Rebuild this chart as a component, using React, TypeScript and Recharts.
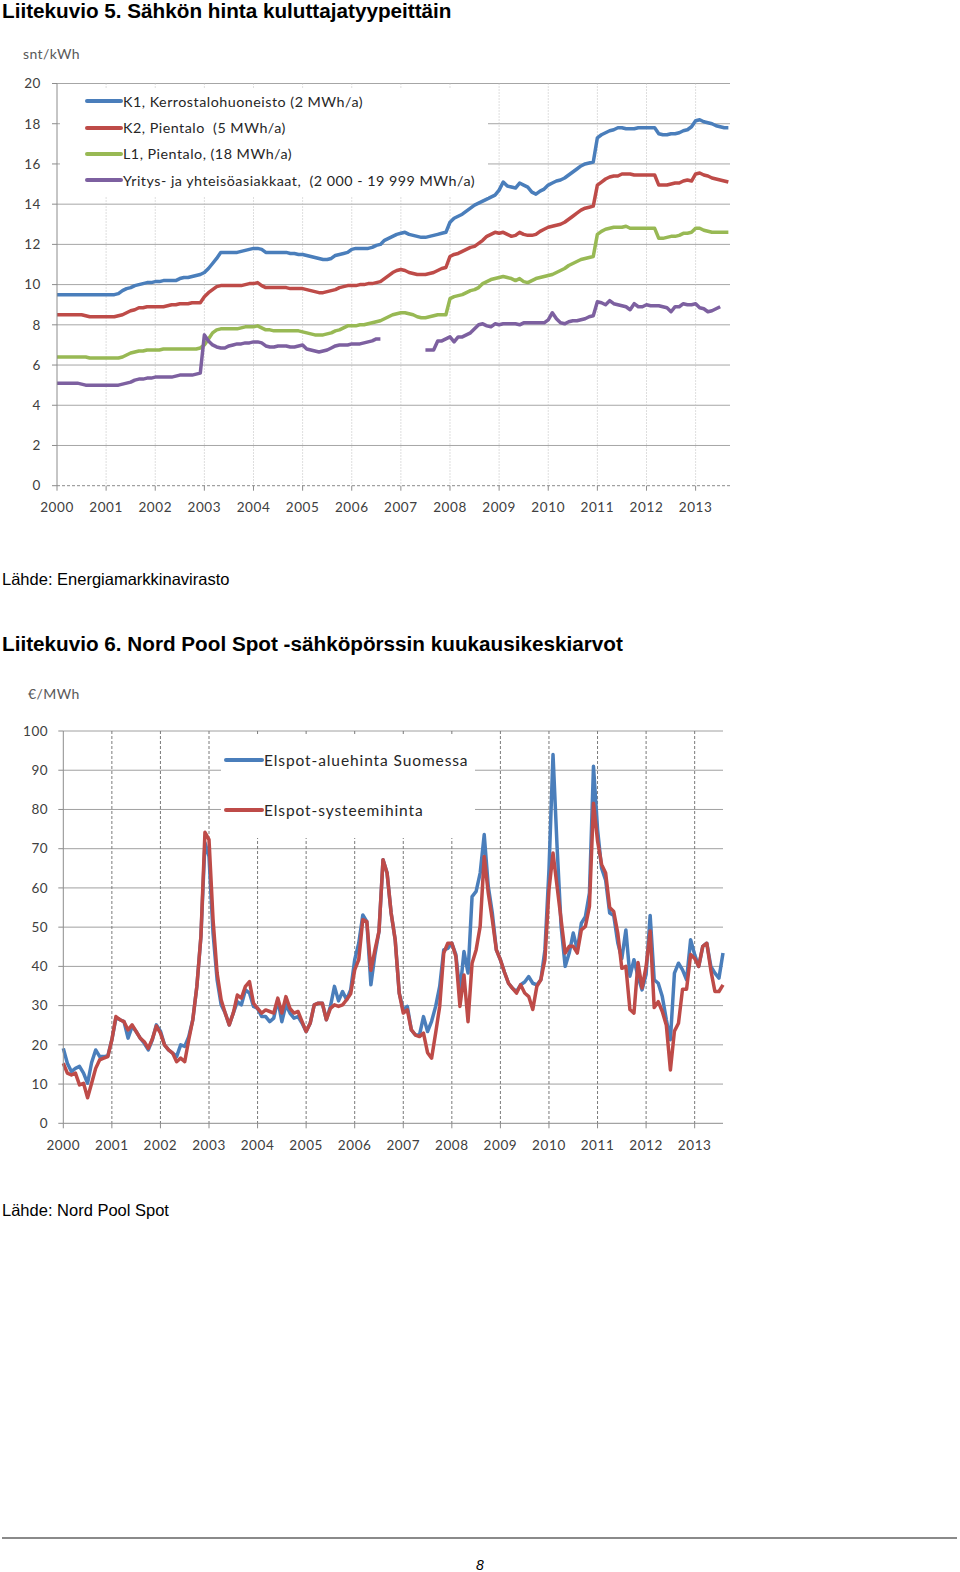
import * as React from 'react';
import { LineChart, Line, CartesianGrid, XAxis, YAxis, Legend } from 'recharts';

// Liitekuvio 5: sähkön hinta kuluttajatyypeittäin, snt/kWh, kuukausittain 1/2000 - 9/2013
const K1 = [
  9.5, 9.5, 9.5, 9.5, 9.5, 9.5, 9.5, 9.5, 9.5, 9.5, 9.5, 9.5,
  9.5, 9.5, 9.5, 9.55, 9.7, 9.8, 9.85, 9.95, 10.0, 10.05, 10.1, 10.1,
  10.15, 10.15, 10.2, 10.2, 10.2, 10.2, 10.3, 10.35, 10.35, 10.4, 10.45, 10.5,
  10.6, 10.8, 11.05, 11.3, 11.6, 11.6, 11.6, 11.6, 11.6, 11.65, 11.7, 11.75,
  11.8, 11.8, 11.75, 11.6, 11.6, 11.6, 11.6, 11.6, 11.6, 11.55, 11.55, 11.5,
  11.5, 11.45, 11.4, 11.35, 11.3, 11.25, 11.25, 11.3, 11.45, 11.5, 11.55, 11.6,
  11.75, 11.8, 11.8, 11.8, 11.8, 11.85, 11.95, 12.0, 12.2, 12.3, 12.4, 12.5,
  12.55, 12.6, 12.5, 12.45, 12.4, 12.35, 12.35, 12.4, 12.45, 12.5, 12.55, 12.6,
  13.1, 13.3, 13.4, 13.5, 13.65, 13.8, 13.95, 14.05, 14.15, 14.25, 14.35, 14.45,
  14.7, 15.1, 14.9, 14.85, 14.8, 15.05, 14.95, 14.85, 14.6, 14.5, 14.65, 14.75,
  14.95, 15.05, 15.15, 15.2, 15.3, 15.45, 15.6, 15.75, 15.9, 16.0, 16.05, 16.1,
  17.3, 17.45, 17.55, 17.65, 17.7, 17.8, 17.8, 17.75, 17.75, 17.75, 17.8, 17.8,
  17.8, 17.8, 17.8, 17.5, 17.45, 17.45, 17.5, 17.5, 17.55, 17.65, 17.7, 17.85,
  18.15, 18.2, 18.1, 18.05, 18.0, 17.9, 17.85, 17.8, 17.8,
];

const K2 = [
  8.5, 8.5, 8.5, 8.5, 8.5, 8.5, 8.5, 8.45, 8.4, 8.4, 8.4, 8.4,
  8.4, 8.4, 8.4, 8.45, 8.5, 8.6, 8.7, 8.75, 8.85, 8.85, 8.9, 8.9,
  8.9, 8.9, 8.9, 8.95, 9.0, 9.0, 9.05, 9.05, 9.05, 9.1, 9.1, 9.1,
  9.4, 9.6, 9.75, 9.9, 9.95, 9.95, 9.95, 9.95, 9.95, 9.95, 10.0, 10.05,
  10.05, 10.1, 9.95, 9.85, 9.85, 9.85, 9.85, 9.85, 9.85, 9.8, 9.8, 9.8,
  9.8, 9.75, 9.7, 9.65, 9.6, 9.6, 9.65, 9.7, 9.75, 9.85, 9.9, 9.95,
  9.95, 9.95, 10.0, 10.0, 10.05, 10.05, 10.1, 10.15, 10.3, 10.45, 10.6, 10.7,
  10.75, 10.7, 10.6, 10.55, 10.5, 10.5, 10.5, 10.55, 10.6, 10.7, 10.8, 10.85,
  11.4, 11.5, 11.55, 11.65, 11.75, 11.85, 11.9, 12.05, 12.2, 12.4, 12.5, 12.6,
  12.55, 12.6, 12.5, 12.4, 12.45, 12.6, 12.5, 12.45, 12.45, 12.5, 12.65, 12.75,
  12.85, 12.9, 12.95, 13.0, 13.1, 13.25, 13.4, 13.55, 13.7, 13.8, 13.85, 13.9,
  14.95, 15.1, 15.25, 15.35, 15.4, 15.4, 15.5, 15.5, 15.5, 15.45, 15.45, 15.45,
  15.45, 15.45, 15.45, 14.95, 14.95, 14.95, 15.0, 15.05, 15.05, 15.15, 15.2, 15.15,
  15.5, 15.55, 15.45, 15.4, 15.3, 15.25, 15.2, 15.15, 15.1,
];

const L1 = [
  6.4, 6.4, 6.4, 6.4, 6.4, 6.4, 6.4, 6.4, 6.35, 6.35, 6.35, 6.35,
  6.35, 6.35, 6.35, 6.35, 6.4, 6.5, 6.6, 6.65, 6.7, 6.7, 6.75, 6.75,
  6.75, 6.75, 6.8, 6.8, 6.8, 6.8, 6.8, 6.8, 6.8, 6.8, 6.8, 6.85,
  7.0, 7.3, 7.6, 7.75, 7.8, 7.8, 7.8, 7.8, 7.8, 7.85, 7.9, 7.9,
  7.9, 7.95, 7.85, 7.75, 7.75, 7.7, 7.7, 7.7, 7.7, 7.7, 7.7, 7.7,
  7.65, 7.6, 7.55, 7.5, 7.5, 7.5, 7.55, 7.6, 7.7, 7.75, 7.85, 7.95,
  7.95, 7.95, 8.0, 8.0, 8.05, 8.1, 8.15, 8.2, 8.3, 8.4, 8.5, 8.55,
  8.6, 8.6, 8.55, 8.5, 8.4, 8.35, 8.35, 8.4, 8.45, 8.5, 8.5, 8.5,
  9.3, 9.4, 9.45, 9.5, 9.6, 9.7, 9.75, 9.85, 10.05, 10.15, 10.25, 10.3,
  10.35, 10.4, 10.35, 10.3, 10.2, 10.3, 10.15, 10.1, 10.2, 10.3, 10.35, 10.4,
  10.45, 10.5, 10.6, 10.7, 10.8, 10.95, 11.05, 11.15, 11.25, 11.3, 11.35, 11.4,
  12.5, 12.65, 12.75, 12.8, 12.85, 12.85, 12.85, 12.9, 12.8, 12.8, 12.8, 12.8,
  12.8, 12.8, 12.8, 12.3, 12.3, 12.35, 12.4, 12.4, 12.45, 12.55, 12.55, 12.6,
  12.8, 12.8, 12.7, 12.65, 12.6, 12.6, 12.6, 12.6, 12.6,
];

const YRITYS = [
  5.1, 5.1, 5.1, 5.1, 5.1, 5.1, 5.05, 5.0, 5.0, 5.0, 5.0, 5.0,
  5.0, 5.0, 5.0, 5.0, 5.05, 5.1, 5.15, 5.25, 5.3, 5.3, 5.35, 5.35,
  5.4, 5.4, 5.4, 5.4, 5.4, 5.45, 5.5, 5.5, 5.5, 5.5, 5.55, 5.6,
  7.5, 7.2, 7.0, 6.9, 6.85, 6.85, 6.95, 7.0, 7.05, 7.05, 7.1, 7.1,
  7.15, 7.15, 7.1, 6.95, 6.9, 6.9, 6.95, 6.95, 6.95, 6.9, 6.9, 6.95,
  7.0, 6.8, 6.75, 6.7, 6.65, 6.7, 6.75, 6.85, 6.95, 7.0, 7.0, 7.0,
  7.05, 7.05, 7.05, 7.1, 7.15, 7.2, 7.3, 7.3, null, null, null, null,
  null, null, null, null, null, null, 6.75, 6.75, 6.75, 7.2, 7.2, 7.3,
  7.4, 7.15, 7.4, 7.4, 7.5, 7.6, 7.8, 8.0, 8.05, 7.95, 7.9, 8.05,
  8.0, 8.05, 8.05, 8.05, 8.05, 8.0, 8.1, 8.1, 8.1, 8.1, 8.1, 8.1,
  8.25, 8.6, 8.3, 8.1, 8.05, 8.15, 8.2, 8.2, 8.25, 8.3, 8.4, 8.45,
  9.15, 9.1, 9.0, 9.2, 9.05, 9.0, 8.95, 8.9, 8.75, 9.05, 8.9, 8.9,
  9.0, 8.95, 8.95, 8.95, 8.9, 8.85, 8.65, 8.9, 8.9, 9.05, 9.0, 9.0,
  9.05, 8.85, 8.8, 8.65, 8.7, 8.8, 8.9, null, null,
];

// Liitekuvio 6: Nord Pool Spot, €/MWh, kuukausittain 1/2000 - 8/2013
const ALUEHINTA_FI = [
  19.1, 15.3, 13.2, 14.0, 14.5, 12.8, 10.2, 15.5, 18.7, 17.0, 17.0, 17.2,
  21.3, 26.8, 26.4, 25.9, 21.7, 24.7, 23.4, 21.7, 20.4, 18.7, 21.3, 25.1,
  23.5, 20.0, 18.7, 17.9, 17.0, 20.0, 19.6, 22.1, 26.4, 34.9, 47.6, 71.5,
  68.0, 48.5, 36.6, 30.2, 28.1, 25.1, 28.1, 31.0, 30.2, 34.0, 33.2, 29.8,
  29.3, 27.2, 27.2, 25.9, 26.8, 31.5, 25.9, 30.2, 28.1, 26.8, 27.2, 25.5,
  23.4, 25.5, 30.2, 30.6, 30.6, 26.4, 29.8, 34.9, 31.2, 33.6, 31.5, 34.0,
  41.7, 45.9, 53.1, 51.4, 35.3, 43.0, 48.9, 67.2, 63.8, 53.6, 46.8, 33.2,
  28.9, 29.8, 23.8, 22.5, 22.5, 27.2, 23.4, 26.0, 29.8, 34.9, 44.2, 44.6,
  45.9, 43.0, 33.5, 43.8, 38.3, 57.8, 59.1, 63.8, 73.6, 60.4, 53.6, 44.2,
  41.7, 38.5, 35.7, 34.4, 33.6, 35.3, 36.0, 37.4, 35.7, 35.3, 36.6, 44.2,
  64.6, 94.0, 70.6, 50.2, 40.0, 43.4, 48.5, 44.2, 51.0, 52.7, 58.7, 91.0,
  75.0, 65.0, 62.0, 53.6, 53.0, 46.0, 42.0, 49.3, 37.5, 41.7, 37.4, 34.0,
  38.0, 53.0, 36.6, 35.7, 32.3, 26.4, 21.3, 38.3, 40.8, 39.1, 36.6, 46.8,
  43.0, 40.0, 45.1, 45.9, 40.0, 38.3, 37.0, 43.4,
];

const SYSTEEMIHINTA = [
  15.3, 12.8, 12.3, 12.8, 9.8, 10.2, 6.5, 10.2, 14.0, 16.2, 16.6, 17.0,
  21.3, 27.2, 26.4, 25.9, 23.8, 25.1, 23.4, 21.7, 20.8, 19.1, 21.5, 24.8,
  23.0, 20.0, 18.7, 17.9, 15.7, 16.6, 15.7, 21.3, 26.4, 34.9, 47.6, 74.2,
  72.3, 51.9, 38.3, 31.5, 28.1, 25.1, 28.1, 32.7, 31.9, 34.9, 36.1, 30.6,
  29.3, 28.1, 28.9, 28.5, 28.1, 31.9, 28.1, 32.3, 29.3, 28.1, 28.5, 25.9,
  23.4, 25.5, 30.2, 30.6, 30.6, 26.4, 29.3, 30.2, 29.8, 30.2, 31.5, 33.0,
  39.1, 41.7, 51.9, 51.4, 39.0, 44.2, 48.9, 67.2, 63.8, 53.6, 46.8, 33.2,
  28.1, 28.9, 23.8, 22.5, 22.1, 23.0, 18.0, 16.6, 23.0, 29.8, 43.4, 45.9,
  45.9, 42.5, 29.8, 37.8, 25.9, 40.8, 44.2, 50.2, 68.0, 58.7, 51.9, 44.2,
  41.7, 38.5, 35.7, 34.4, 33.2, 35.3, 33.2, 32.3, 29.0, 34.9, 36.6, 41.7,
  59.5, 68.9, 60.4, 51.9, 43.4, 45.1, 45.1, 43.4, 49.3, 50.2, 55.3, 81.6,
  72.0, 66.0, 63.8, 55.0, 54.0, 48.5, 39.5, 40.0, 29.0, 28.1, 41.0, 34.5,
  40.0, 49.0, 29.5, 31.0, 28.5, 25.0, 13.6, 23.5, 25.5, 34.2, 34.2, 43.0,
  42.0, 40.0, 45.1, 45.9, 39.0, 33.6, 33.6, 35.3,
];

const YEAR_TICKS = [0, 1, 2, 3, 4, 5, 6, 7, 8, 9, 10, 11, 12, 13];
const Y_TICKS_1 = [0, 2, 4, 6, 8, 10, 12, 14, 16, 18, 20];
const Y_TICKS_2 = [0, 10, 20, 30, 40, 50, 60, 70, 80, 90, 100];

const SERIES_1 = [
  { key: 'k1', name: 'K1, Kerrostalohuoneisto (2 MWh/a)', color: '#4a7ebb' },
  { key: 'k2', name: 'K2, Pientalo  (5 MWh/a)', color: '#be4b48' },
  { key: 'l1', name: 'L1, Pientalo, (18 MWh/a)', color: '#98b954' },
  { key: 'yr', name: 'Yritys- ja yhteisöasiakkaat,  (2 000 - 19 999 MWh/a)', color: '#7d60a0' },
];

const SERIES_2 = [
  { key: 'fi', name: 'Elspot-aluehinta Suomessa', color: '#4a7ebb' },
  { key: 'sys', name: 'Elspot-systeemihinta', color: '#be4b48' },
];

const data1 = K1.map((v, i) => ({ t: i / 12, k1: v, k2: K2[i], l1: L1[i], yr: YRITYS[i] }));
const data2 = ALUEHINTA_FI.map((v, i) => ({ t: i / 12, fi: v, sys: SYSTEEMIHINTA[i] }));

const chartFont = 'Lato, "Open Sans", sans-serif';
const tickStyle = { fill: '#404040', fontSize: 13.5, fontFamily: chartFont, letterSpacing: 0.6 };

const LegendBox = ({ items, rowH, padLeft, fontSize, lineW, spacing }: any) => (
  <div style={{ width: '100%', height: '100%', background: '#fff', paddingLeft: padLeft, boxSizing: 'border-box', fontFamily: chartFont, fontSize, color: '#262626' }}>
    {items.map((s: any) => (
      <div key={s.key} style={{ height: rowH, display: 'flex', alignItems: 'center', whiteSpace: 'pre' }}>
        <svg width={lineW + 2} height={6} style={{ display: 'block' }}>
          <line x1={2} y1={3} x2={lineW} y2={3} stroke={s.color} strokeWidth={4} strokeLinecap="round" />
        </svg>
        <span style={{ letterSpacing: spacing }}>{s.name}</span>
      </div>
    ))}
  </div>
);

const abs = (left: number, top: number, extra: any = {}) => ({ position: 'absolute' as const, left, top, margin: 0, ...extra });

export default function App() {
  const heading = { fontFamily: '"Liberation Sans", Arial, sans-serif', fontWeight: 700, fontSize: 20.7, lineHeight: '22px', color: '#000', whiteSpace: 'nowrap' as const };
  const source = { fontFamily: '"Liberation Sans", Arial, sans-serif', fontSize: 16.5, lineHeight: '19px', color: '#000', whiteSpace: 'nowrap' as const };
  const unit = { fontFamily: chartFont, fontSize: 14, color: '#595959', letterSpacing: 0.4 };

  return (
    <div style={{ position: 'absolute', left: 0, top: 0, width: 960, height: 1572, background: '#fff', overflow: 'hidden' }}>
      <div style={abs(2, 0, heading)}>Liitekuvio 5. Sähkön hinta kuluttajatyypeittäin</div>
      <div style={abs(23, 45, unit)}>snt/kWh</div>

      <div style={abs(0, 70)}>
        <LineChart width={750} height={460} data={data1} margin={{ top: 13.5, right: 20, bottom: 14.3, left: 0 }}>
          <CartesianGrid vertical={false} stroke="#a6a6a6" horizontalValues={[2, 4, 6, 8, 10, 12, 14, 16, 18, 20]} />
          <CartesianGrid horizontal={false} stroke="#bdbdbd" strokeDasharray="1 2" verticalValues={[1, 2, 3, 4, 5, 6, 7, 8, 9, 10, 11, 12, 13]} />
          <XAxis
            dataKey="t"
            type="number"
            domain={[0, 13.7]}
            ticks={YEAR_TICKS}
            interval={0}
            tickFormatter={(v: number) => String(2000 + v)}
            height={30}
            tickSize={5}
            tickMargin={12}
            axisLine={{ stroke: '#8c8c8c', strokeDasharray: '3 2' }}
            tickLine={{ stroke: '#8c8c8c' }}
            tick={tickStyle}
          />
          <YAxis
            type="number"
            domain={[0, 20]}
            ticks={Y_TICKS_1}
            interval={0}
            width={57}
            tickSize={5}
            tickMargin={11}
            axisLine={{ stroke: '#8c8c8c' }}
            tickLine={{ stroke: '#8c8c8c' }}
            tick={tickStyle}
          />
          <Legend
            layout="vertical"
            align="center"
            verticalAlign="middle"
            wrapperStyle={{ left: 60, top: 18, width: 428, height: 109 }}
            content={() => <LegendBox items={SERIES_1} rowH={26.4} padLeft={25} fontSize={14.3} lineW={36} spacing={0.5} />}
          />
          {SERIES_1.map((s) => (
            <Line
              key={s.key}
              dataKey={s.key}
              name={s.name}
              type="linear"
              stroke={s.color}
              strokeWidth={3.5}
              strokeLinejoin="round"
              dot={false}
              activeDot={false}
              isAnimationActive={false}
            />
          ))}
        </LineChart>
      </div>

      <div style={abs(2, 570, source)}>Lähde: Energiamarkkinavirasto</div>

      <div style={abs(2, 633, heading)}>Liitekuvio 6. Nord Pool Spot -sähköpörssin kuukausikeskiarvot</div>
      <div style={abs(28, 685, unit)}>€/MWh</div>

      <div style={abs(0, 700)}>
        <LineChart width={750} height={470} data={data2} margin={{ top: 31, right: 27, bottom: 16.7, left: 0 }}>
          <CartesianGrid vertical={false} stroke="#a0a0a0" horizontalValues={[10, 20, 30, 40, 50, 60, 70, 80, 90, 100]} />
          <CartesianGrid horizontal={false} stroke="#7a7a7a" strokeDasharray="3 2" verticalValues={[1, 2, 3, 4, 5, 6, 7, 8, 9, 10, 11, 12, 13]} />
          <XAxis
            dataKey="t"
            type="number"
            domain={[0, 163 / 12]}
            ticks={YEAR_TICKS}
            interval={0}
            tickFormatter={(v: number) => String(2000 + v)}
            height={30}
            tickSize={5}
            tickMargin={12}
            axisLine={{ stroke: '#8c8c8c' }}
            tickLine={{ stroke: '#8c8c8c' }}
            tick={tickStyle}
          />
          <YAxis
            type="number"
            domain={[0, 100]}
            ticks={Y_TICKS_2}
            interval={0}
            width={63.3}
            tickSize={5}
            tickMargin={10}
            axisLine={{ stroke: '#8c8c8c' }}
            tickLine={{ stroke: '#8c8c8c' }}
            tick={tickStyle}
          />
          <Legend
            layout="vertical"
            align="center"
            verticalAlign="middle"
            wrapperStyle={{ left: 221, top: 35, width: 254, height: 103 }}
            content={() => <LegendBox items={SERIES_2} rowH={50} padLeft={3} fontSize={15.5} lineW={38} spacing={0.9} />}
          />
          {SERIES_2.map((s) => (
            <Line
              key={s.key}
              dataKey={s.key}
              name={s.name}
              type="linear"
              stroke={s.color}
              strokeWidth={3.5}
              strokeLinejoin="round"
              dot={false}
              activeDot={false}
              isAnimationActive={false}
            />
          ))}
        </LineChart>
      </div>

      <div style={abs(2, 1201, source)}>Lähde: Nord Pool Spot</div>

      <div style={abs(2, 1537, { width: 955, height: 2, background: '#8a8a8a' })} />
      <div style={abs(0, 1557, { width: 960, textAlign: 'center', fontFamily: '"Liberation Sans", Arial, sans-serif', fontStyle: 'italic', fontSize: 14, lineHeight: '16px' })}>8</div>
    </div>
  );
}
